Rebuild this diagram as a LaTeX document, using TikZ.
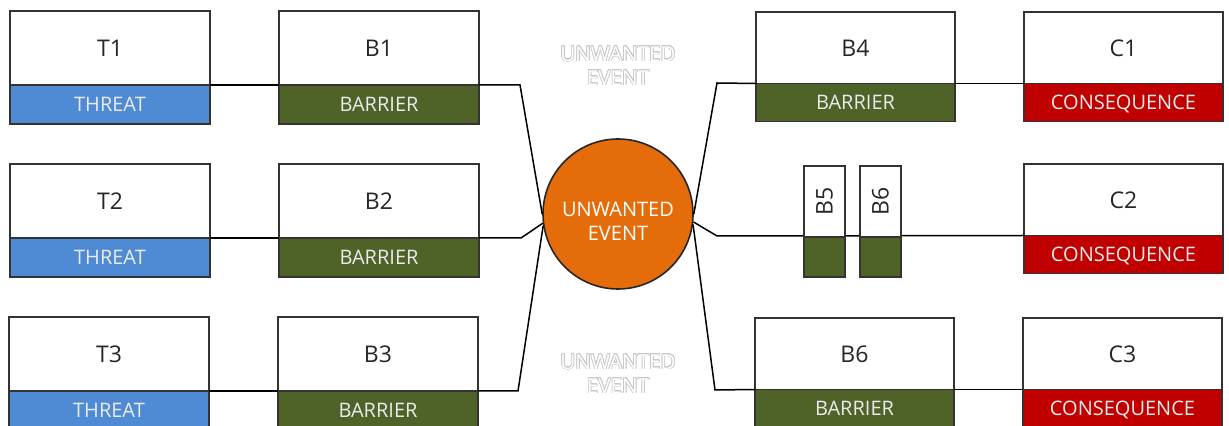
\documentclass[tikz,border=0pt]{standalone}
\usepackage{fontspec}
\setmainfont{Open Sans}
\usepackage{xcolor}
\usepackage{contour}
\usetikzlibrary{positioning}
\definecolor{threatblue}{RGB}{79,139,213}
\definecolor{barriergreen}{RGB}{79,98,40}
\definecolor{consred}{RGB}{192,0,0}
\definecolor{eventorange}{RGB}{228,108,10}
\contourlength{0.35pt}

\begin{document}
\begin{tikzpicture}[x=0.5pt, y=-0.5pt,
    topbox/.style={draw=black!80, line width=0.7pt, fill=white, anchor=north west,
        outer sep=0pt, inner sep=0pt, text=black!85,
        font=\fontsize{11.5}{13}\selectfont, text height=8.3pt, text depth=0pt},
    lefttop/.style={topbox, minimum width=100pt, minimum height=37pt},
    righttop/.style={topbox, minimum width=99.5pt, minimum height=35.75pt},
    tagbox/.style={draw=black!80, line width=0.7pt, outer sep=0pt, inner sep=0pt,
        text=white!92!black, font=\fontsize{10}{12}\selectfont,
        text height=7.2pt, text depth=0pt},
    threat/.style={tagbox, fill=threatblue, minimum width=100pt, minimum height=19.5pt},
    barrier/.style={tagbox, fill=barriergreen, minimum width=100pt, minimum height=19.5pt},
    rbarrier/.style={tagbox, fill=barriergreen, minimum width=99.5pt, minimum height=19pt},
    conseq/.style={tagbox, fill=consred, minimum width=99.5pt, minimum height=19pt},
    conn/.style={draw=black, line width=0.75pt},
    ghost/.style={align=center, text=white, font=\fontsize{10.3}{12}\selectfont}]

    \useasboundingbox (0,0) rectangle (1229,426);

    % threats and barriers, left side
    \node[lefttop] (t1) at (10,11) {T1};
    \node[threat, below=0pt of t1] (t1b) {THREAT};
    \node[lefttop] (t2) at (10,164) {T2};
    \node[threat, below=0pt of t2] (t2b) {THREAT};
    \node[lefttop] (t3) at (9,317) {T3};
    \node[threat, below=0pt of t3] (t3b) {THREAT};

    \node[lefttop] (b1) at (279,11) {B1};
    \node[barrier, below=0pt of b1] (b1b) {BARRIER};
    \node[lefttop] (b2) at (279,164) {B2};
    \node[barrier, below=0pt of b2] (b2b) {BARRIER};
    \node[lefttop] (b3) at (278,317) {B3};
    \node[barrier, below=0pt of b3] (b3b) {BARRIER};

    % unwanted event
    \node[circle, draw=black!85, line width=0.8pt, fill=eventorange,
        minimum size=75pt, inner sep=0pt] (ue) at (618,214) {};
    \node[align=center, text=white, font=\fontsize{10}{12}\selectfont] (uet) at (618,221) {UNWANTED\\EVENT};
    \node[ghost] (g1) at (618,66) {\contour{black!22}{UNWANTED}\\\contour{black!22}{EVENT}};
    \node[ghost] (g2) at (618,374) {\contour{black!22}{UNWANTED}\\\contour{black!22}{EVENT}};

    % barriers and consequences, right side
    \node[righttop] (b4) at (756,12) {B4};
    \node[rbarrier, below=0pt of b4] (b4b) {BARRIER};
    \node[righttop] (b6) at (755,318) {B6};
    \node[rbarrier, below=0pt of b6] (b6b) {BARRIER};

    \node[righttop] (c1) at (1024,12) {C1};
    \node[conseq, below=0pt of c1] (c1b) {CONSEQUENCE};
    \node[righttop] (c2) at (1024,164) {C2};
    \node[conseq, below=0pt of c2] (c2b) {CONSEQUENCE};
    \node[righttop] (c3) at (1023,318) {C3};
    \node[conseq, below=0pt of c3] (c3b) {CONSEQUENCE};

    % corners of the connectors
    \coordinate (k1) at (520,85);
    \coordinate (k2) at (521,238);
    \coordinate (k3) at (518,391);
    \coordinate (k4) at (717,83);
    \coordinate (k5) at (717,236);
    \coordinate (k6) at (715,390);

    \draw[conn] (t1b.north east) -- (b1b.north west);
    \draw[conn] (t2b.north east) -- (b2b.north west);
    \draw[conn] (t3b.north east) -- (b3b.north west);
    \draw[conn] (b1b.north east) -- (k1) -- (ue.west);
    \draw[conn] (b2b.north east) -- (k2) -- (ue.187);
    \draw[conn] (b3b.north east) -- (k3) -- (ue.189);

    \draw[conn] (ue.east) -- (k4) -- (b4b.north west);
    \draw[conn] (ue.354) -- (k5) -- (c2b.north west);
    \draw[conn] (ue.352) -- (k6) -- (b6b.north west);
    \draw[conn] (b4b.north east) -- (c1b.north west);
    \draw[conn] (b6b.north east) -- (c3b.north west);

    % small barriers on the middle line
    \node[topbox, minimum width=20.5pt, minimum height=35.5pt] (b5) at (804,166) {};
    \node[tagbox, fill=barriergreen, minimum width=20.5pt, minimum height=20pt, below=0pt of b5] (b5b) {};
    \node[rotate=90, text=black!85, font=\fontsize{11.5}{13}\selectfont] (b5t) at (b5.center) {B5};
    \node[topbox, minimum width=20.5pt, minimum height=35.5pt] (b6s) at (860,166) {};
    \node[tagbox, fill=barriergreen, minimum width=20.5pt, minimum height=20pt, below=0pt of b6s] (b6sb) {};
    \node[rotate=90, text=black!85, font=\fontsize{11.5}{13}\selectfont] (b6t) at (b6s.center) {B6};
\end{tikzpicture}
\end{document}
